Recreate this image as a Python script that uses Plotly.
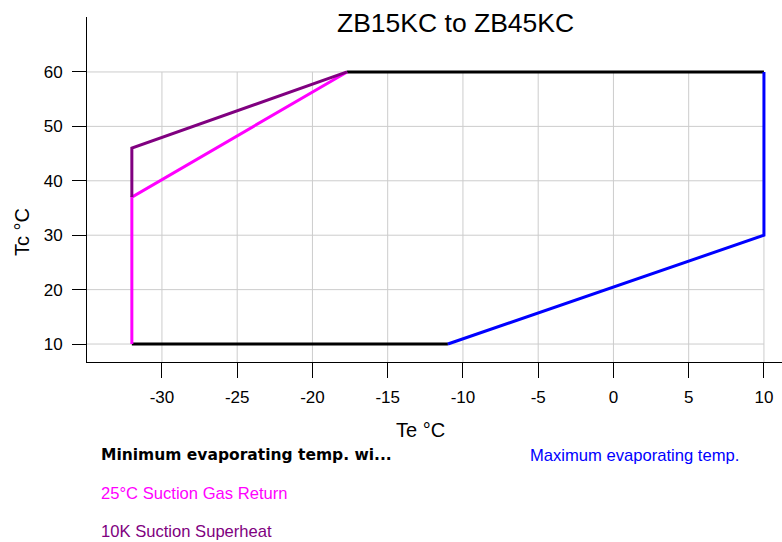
import plotly.graph_objects as go

# ---- data ----
series_names = [
    "Minimum evaporating temp. wi...",
    "Maximum evaporating temp.",
    "25°C Suction Gas Return",
    "10K Suction Superheat",
]
series_colors = ["#000000", "#0000FF", "#FF00FF", "#800080"]

min_te_x = [-32, -11, None, -17.7, 10]
min_te_y = [10, 10, None, 60, 60]
max_te_x = [-11, 10, 10]
max_te_y = [10, 30, 60]
sgr_x = [-32, -32, -17.7]
sgr_y = [10, 37, 60]
sh_x = [-32, -32, -17.7]
sh_y = [37, 46, 60]

x_ticks = [-30, -25, -20, -15, -10, -5, 0, 5, 10]
x_tick_labels = ["-30", "-25", "-20", "-15", "-10", "-5", "0", "5", "10"]
y_ticks = [10, 20, 30, 40, 50, 60]
y_tick_labels = ["10", "20", "30", "40", "50", "60"]

title_text = "ZB15KC to ZB45KC"
x_title = "Te °C"
y_title = "Tc °C"

# ---- layout constants ----
W, H = 782, 542
L, R, T, B = 87, 0, 17, 180
x_range = [-34.98, 11.2]
y_range = [6.7, 70.1]

def px(x):
    return (x - L) / (W - L - R)

def py(y):
    return (H - B - y) / (H - T - B)

fig = go.Figure()

# grid lines (only inside the operating box region)
shapes = []
for xv in x_ticks:
    shapes.append(dict(type="line", xref="x", yref="y", x0=xv, x1=xv,
                       y0=y_range[0], y1=max(y_ticks),
                       line=dict(color="#CCCCCC", width=1), layer="below"))
for yv in y_ticks:
    shapes.append(dict(type="line", xref="x", yref="y", x0=x_range[0], x1=max(x_ticks),
                       y0=yv, y1=yv,
                       line=dict(color="#CCCCCC", width=1), layer="below"))

series = [(min_te_x, min_te_y), (max_te_x, max_te_y), (sgr_x, sgr_y), (sh_x, sh_y)]
for (xs, ys), name, col in zip(series, series_names, series_colors):
    fig.add_trace(go.Scatter(x=xs, y=ys, mode="lines", name=name,
                             line=dict(color=col, width=3), showlegend=False,
                             connectgaps=False))

# legend as text rows
legend_pos = [(99, 455, True), (528, 455, False), (99, 493, False), (99, 531, False)]
annotations = []
for (lx, ly, bold), name, col in zip(legend_pos, series_names, series_colors):
    if bold:
        fnt = dict(family="DejaVu Sans", size=15.5, color=col)
        txt = "<b>%s</b>" % name
    else:
        fnt = dict(family="Liberation Sans, Arial", size=16.6, color=col)
        txt = name
    annotations.append(dict(text=txt, xref="paper", yref="paper", x=px(lx), y=py(ly),
                            xanchor="left", yanchor="middle", showarrow=False, font=fnt))

annotations.append(dict(text=title_text, xref="paper", yref="paper",
                        x=px(455), y=py(23), xanchor="center", yanchor="middle",
                        showarrow=False,
                        font=dict(family="Liberation Sans, Arial", size=26.5, color="#000")))
annotations.append(dict(text=x_title, xref="paper", yref="paper",
                        x=px(420), y=py(430), xanchor="center", yanchor="middle",
                        showarrow=False,
                        font=dict(family="Liberation Sans, Arial", size=20, color="#000")))
annotations.append(dict(text=y_title, xref="paper", yref="paper",
                        x=px(22), y=py(232), xanchor="center", yanchor="middle",
                        showarrow=False, textangle=-90,
                        font=dict(family="Liberation Sans, Arial", size=20, color="#000")))

fig.update_layout(
    width=W, height=H,
    margin=dict(l=L, r=R, t=T, b=B, pad=0),
    paper_bgcolor="white", plot_bgcolor="white",
    shapes=shapes, annotations=annotations,
    font=dict(family="Liberation Sans, Arial", size=16, color="#000"),
)
fig.update_xaxes(range=x_range, tickvals=x_ticks, ticktext=x_tick_labels,
                 ticks="outside", ticklen=15,
                 tickcolor="#000", showgrid=False, zeroline=False,
                 showline=True, linecolor="#000", linewidth=1,
                 tickfont=dict(size=17, color="#000"), ticklabelstandoff=5)
fig.update_yaxes(range=y_range, tickvals=y_ticks, ticktext=y_tick_labels,
                 ticks="outside", ticklen=14,
                 tickcolor="#000", showgrid=False, zeroline=False,
                 showline=True, linecolor="#000", linewidth=1,
                 tickfont=dict(size=17, color="#000"), ticklabelstandoff=6)

fig.write_html("out.html")
